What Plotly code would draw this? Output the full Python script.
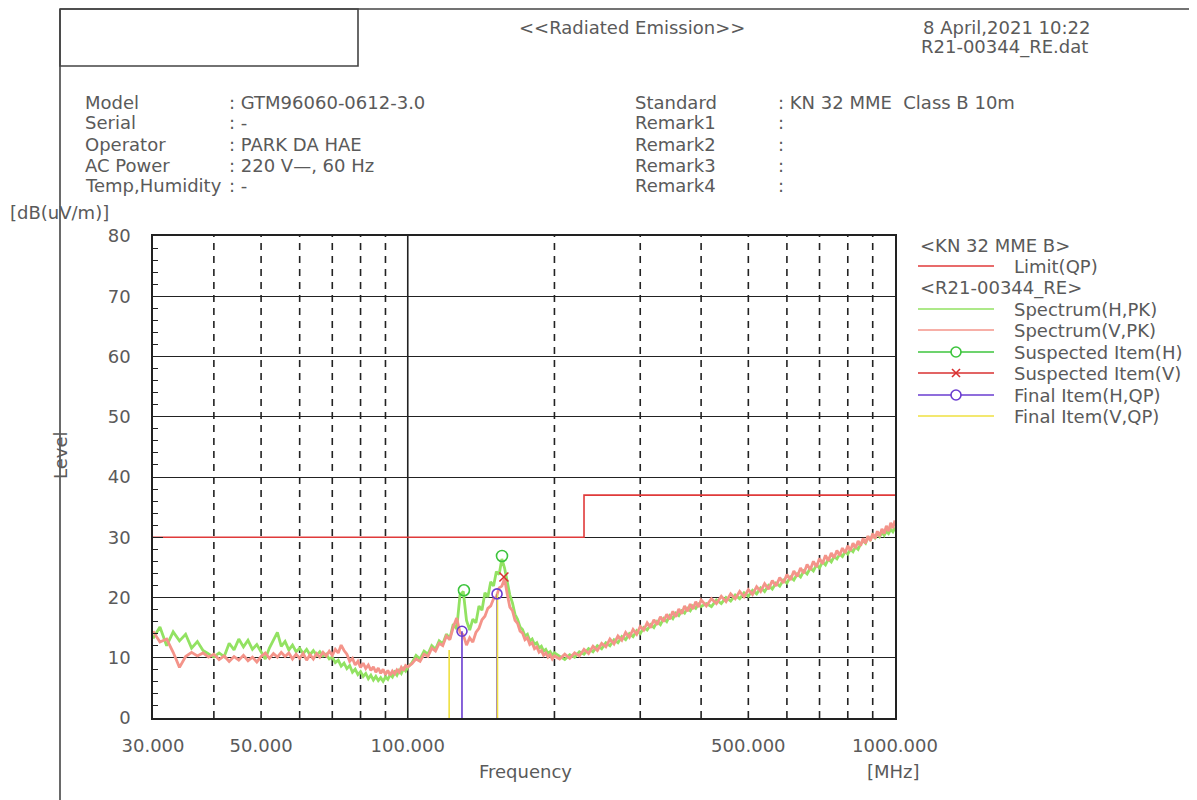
import plotly.graph_objects as go

# ---------------- data ----------------
freq = [30, 31, 32, 33, 34, 35, 36, 37, 38, 39, 40, 41, 42, 43, 44, 45, 46, 47, 48, 49,
        50, 51, 52, 53, 54, 55, 56, 57, 58, 59, 60, 61, 62, 63, 64, 65, 66, 67, 68, 69,
        70, 71, 72, 73, 74, 75, 76, 77, 78, 79, 80, 81, 82, 83, 84, 85, 86, 87, 88, 89,
        90, 91, 92, 93, 94, 95, 96, 97, 98, 99, 100,
        102, 104, 106, 108, 110, 112, 114, 116, 118, 120, 122, 124, 126, 128, 130, 132, 134,
        136, 138, 140, 142, 144, 146, 148, 150, 152, 154, 156, 158, 160, 162, 164, 166, 168,
        170, 172, 174, 176, 178, 180, 182, 184, 186, 188, 190, 192, 194, 196, 198, 200,
        205, 210, 215, 220, 225, 230, 235, 240, 245, 250, 255, 260, 265, 270, 275, 280, 285,
        290, 295, 300, 305, 310, 315, 320, 325, 330, 335, 340, 345, 350, 355, 360, 365, 370,
        375, 380, 385, 390, 395, 400,
        410, 420, 430, 440, 450, 460, 470, 480, 490, 500, 510, 520, 530, 540, 550, 560, 570,
        580, 590, 600, 610, 620, 630, 640, 650, 660, 670, 680, 690, 700, 710, 720, 730, 740,
        750, 760, 770, 780, 790, 800, 810, 820, 830, 840, 850, 860, 870, 880, 890, 900, 910,
        920, 930, 940, 950, 960, 970, 980, 990, 1000]

spec_h = [13.2, 15.1, 12.0, 14.3, 12.8, 13.9, 11.6, 12.7, 11.2, 10.6, 10.1, 10.8, 10.2, 12.4,
          11.3, 13.1, 11.8, 12.9, 11.4, 12.2, 10.9, 9.8, 11.6, 12.8, 14.2, 11.9, 12.7, 11.3,
          12.1, 11.0, 11.6, 10.7, 11.4, 10.5, 11.2, 10.4, 11.0, 10.3, 10.6, 9.8, 10.1, 9.2,
          9.6, 8.6, 9.1, 8.2, 8.7, 7.6, 8.1, 7.2, 7.7, 6.9, 7.4, 6.5, 7.1, 6.3, 6.9, 6.2, 6.7,
          6.1, 6.8, 6.4, 7.2, 6.8, 7.6, 7.1, 7.9, 7.4, 8.2, 7.8, 8.4,
          9.2, 10.4, 9.8, 11.1, 10.6, 12.0, 11.4, 12.8, 12.3, 13.9, 13.2, 15.6, 14.8, 20.4,
          21.0, 16.2, 14.6, 16.4, 15.8, 18.6, 17.9, 20.8, 20.1, 22.6, 21.9, 24.3, 23.8, 26.4,
          24.9, 22.8, 20.4, 19.1, 17.2, 16.4, 15.1, 14.7, 13.6, 13.9, 12.8, 13.1, 12.2, 12.5,
          11.6, 11.9, 11.1, 11.4, 10.7, 11.0, 10.4, 10.8,
          10.2, 9.7, 10.5, 10.1, 11.0, 10.6, 11.5, 11.0, 12.0, 11.5, 12.5, 12.0, 13.0, 12.5,
          13.5, 13.0, 14.0, 13.5, 14.5, 14.0, 15.0, 14.6, 15.5, 15.0, 16.0, 15.5, 16.5, 16.0,
          17.0, 16.5, 17.4, 17.0, 17.8, 17.4, 18.2, 17.8, 18.6, 18.2, 18.9, 18.5,
          19.0, 18.5, 19.6, 19.0, 20.0, 19.4, 20.4, 19.8, 20.8, 20.2, 21.2, 20.6, 21.6, 21.0,
          22.0, 21.4, 22.4, 21.9, 22.9, 22.4, 23.4, 22.9, 23.9, 23.4, 24.4, 23.9, 24.9, 24.4,
          25.4, 24.9, 25.9, 25.4, 26.4, 25.9, 26.8, 26.4, 27.2, 26.8, 27.6, 27.2, 28.0, 27.6,
          28.4, 28.0, 28.9, 29.4, 29.0, 30.1, 29.6, 30.4, 29.9, 30.6, 30.1, 30.8, 30.3, 31.0,
          30.6, 31.3, 30.9, 31.6]

spec_v = [14.4, 12.6, 13.1, 10.9, 8.4, 10.2, 10.9, 10.3, 10.8, 10.1, 10.6, 9.7, 10.3, 9.4,
          10.2, 9.6, 10.4, 9.5, 10.1, 9.3, 10.2, 10.8, 9.9, 10.7, 10.1, 10.9, 10.2, 10.8, 9.8,
          10.6, 9.9, 10.7, 9.6, 10.5, 9.8, 10.7, 10.1, 10.9, 10.3, 11.1, 10.4, 11.4, 10.8,
          12.1, 11.2, 10.6, 9.4, 9.9, 8.8, 9.4, 8.4, 9.1, 8.2, 8.8, 7.9, 8.5, 7.6, 8.3, 7.4,
          8.1, 7.2, 7.9, 7.1, 7.8, 7.3, 8.0, 7.6, 8.4, 7.9, 8.7, 8.5,
          9.0, 9.8, 9.4, 10.6, 10.2, 11.6, 11.1, 12.4, 12.0, 13.6, 13.0, 15.1, 16.6, 14.2,
          13.8, 12.1, 13.3, 12.6, 14.2, 14.9, 16.3, 16.9, 18.2, 18.6, 19.8, 20.1, 21.6, 21.9,
          23.1, 20.6, 18.4, 17.8, 16.2, 15.7, 14.4, 14.1, 13.0, 13.3, 12.2, 12.5, 11.5, 11.8,
          10.9, 11.2, 10.4, 10.8, 10.1, 10.5, 9.8, 10.3,
          9.8, 10.6, 9.9, 10.8, 10.3, 11.4, 10.7, 11.9, 11.2, 12.4, 11.8, 13.1, 12.3, 13.6,
          12.9, 14.2, 13.4, 14.7, 13.9, 15.2, 14.6, 15.8, 15.0, 16.3, 15.5, 16.8, 16.0, 17.2,
          16.4, 17.7, 16.8, 18.1, 17.3, 18.6, 17.7, 18.9, 18.1, 19.3, 18.4, 19.6,
          18.6, 19.8, 19.0, 20.2, 19.3, 20.6, 19.8, 21.0, 20.1, 21.3, 20.5, 21.8, 21.0, 22.3,
          21.4, 22.8, 21.9, 23.3, 22.4, 23.8, 22.9, 24.4, 23.5, 24.9, 24.0, 25.5, 24.6, 26.0,
          25.1, 26.5, 25.6, 27.0, 26.1, 27.4, 26.6, 27.8, 27.0, 28.2, 27.4, 28.6, 27.8, 29.0,
          28.2, 29.4, 28.6, 29.8, 29.0, 30.2, 29.4, 30.6, 29.8, 31.0, 30.2, 31.4, 30.6, 31.9,
          31.0, 32.4, 31.5, 32.8]

limit_freq = [30, 230, 230, 1000]
limit_level = [30, 30, 37, 37]

susp_h_freq = [130.4, 156.1]
susp_h_level = [21.2, 26.9]
susp_v_freq = [157.5]
susp_v_level = [23.4]
final_h_freq = [129.2, 152.5]
final_h_level = [14.4, 20.6]
final_v_freq = [121.6, 152.8]
final_v_level = [11.3, 20.6]

grid_dashed = [40, 50, 60, 70, 80, 90, 200, 300, 400, 500, 600, 700, 800, 900]
grid_solid = [100]

x_tickvals = [30, 50, 100, 500, 1000]
x_ticktext = ["30.000", "50.000", "100.000", "500.000", "1000.000"]
y_tickvals = [0, 10, 20, 30, 40, 50, 60, 70, 80]

info_left = [("Model", ": GTM96060-0612-3.0"), ("Serial", ": -"),
             ("Operator", ": PARK DA HAE"), ("AC Power", ": 220 V\u2014, 60 Hz"),
             ("Temp,Humidity", ": -")]
info_right = [("Standard", ": KN 32 MME  Class B 10m"), ("Remark1", ":"),
              ("Remark2", ":"), ("Remark3", ":"), ("Remark4", ":")]

# ---------------- styles ----------------
OFF = 8                      # page body margin of the html
W, H = 1197 - OFF, 800 - OFF
L, R, T, B = 153, 895, 236, 718   # plot area in screen pixels
FONT = "DejaVu Sans"
TXT = "#5a5a5a"
FS = 18
C_LIMIT = "#e03a3a"
C_H = "#92e262"
C_V = "#f4948a"
C_SH = "#3cc43c"
C_SV = "#d93030"
C_FH = "#6a3cd0"
C_FV = "#efe040"
C_GRID = "#222222"
TOP = 9


def px(x):
    return (x - L) / (R - L)


def py(y):
    return (B - y) / (B - T)


fig = go.Figure()

for f in grid_dashed:
    fig.add_trace(go.Scatter(x=[f, f], y=[0, 80], mode="lines",
                             line=dict(color=C_GRID, width=1.6, dash="7px,6px"),
                             hoverinfo="skip", showlegend=False))
for f in grid_solid:
    fig.add_trace(go.Scatter(x=[f, f], y=[0, 80], mode="lines",
                             line=dict(color=C_GRID, width=1.6),
                             hoverinfo="skip", showlegend=False))

fig.add_trace(go.Scatter(x=limit_freq, y=limit_level, mode="lines",
                         line=dict(color=C_LIMIT, width=1.6), name="Limit(QP)"))
fig.add_trace(go.Scatter(x=freq, y=spec_h, mode="lines",
                         line=dict(color=C_H, width=2.8), name="Spectrum(H,PK)"))
fig.add_trace(go.Scatter(x=freq, y=spec_v, mode="lines",
                         line=dict(color=C_V, width=2.8), name="Spectrum(V,PK)"))

for f, lv in zip(final_h_freq, final_h_level):
    fig.add_trace(go.Scatter(x=[f, f], y=[0, lv], mode="lines",
                             line=dict(color=C_FH, width=1.6),
                             hoverinfo="skip", showlegend=False))
for f, lv in zip(final_v_freq, final_v_level):
    fig.add_trace(go.Scatter(x=[f, f], y=[0, lv], mode="lines",
                             line=dict(color=C_FV, width=1.6),
                             hoverinfo="skip", showlegend=False))

fig.add_trace(go.Scatter(x=susp_h_freq, y=susp_h_level, mode="markers",
                         marker=dict(symbol="circle-open", size=11, color=C_SH,
                                     line=dict(width=1.6, color=C_SH)),
                         name="Suspected Item(H)"))
fig.add_trace(go.Scatter(x=susp_v_freq, y=susp_v_level, mode="markers",
                         marker=dict(symbol="x-thin-open", size=9, color=C_SV,
                                     line=dict(width=1.6, color=C_SV)),
                         name="Suspected Item(V)"))
fig.add_trace(go.Scatter(x=final_h_freq, y=final_h_level, mode="markers",
                         marker=dict(symbol="circle-open", size=10, color=C_FH,
                                     line=dict(width=1.6, color=C_FH)),
                         name="Final Item(H,QP)"))

shapes = []
ann = []

shapes.append(dict(type="line", xref="paper", yref="paper", x0=px(60), x1=px(1197),
                   y0=py(TOP), y1=py(TOP), line=dict(color="#444", width=1.6)))
shapes.append(dict(type="line", xref="paper", yref="paper", x0=px(60), x1=px(60),
                   y0=py(TOP), y1=py(800), line=dict(color="#444", width=1.6)))
shapes.append(dict(type="rect", xref="paper", yref="paper", x0=px(60), x1=px(358),
                   y0=py(TOP), y1=py(66), line=dict(color="#444", width=1.6)))


def text(x, y, s, xanchor="left", size=FS, angle=0):
    ann.append(dict(x=px(x), y=py(y), xref="paper", yref="paper", text=s,
                    showarrow=False, xanchor=xanchor, yanchor="middle",
                    textangle=angle, font=dict(family=FONT, size=size, color=TXT)))


text(632, 27, "&lt;&lt;Radiated Emission&gt;&gt;", "center")
text(1092, 27, "8 April,2021 10:22", "right")
text(1090, 47, "R21-00344_RE.dat", "right")

for i, (k, v) in enumerate(info_left):
    y = 102 + 21 * i
    text(83, y, k)
    text(227, y, v)
for i, (k, v) in enumerate(info_right):
    y = 102 + 21 * i
    text(633, y, k)
    text(776, y, v)

text(8, 213, "[dB(uV/m)]")
text(60, 455, "Level", "center", angle=-90)
text(525, 771, "Frequency", "center")
text(893, 771, "[MHz]", "center")

LX0, LX1, TX = 918, 994, 1012
text(LX0, 245, "&lt;KN 32 MME B&gt;")
text(LX0, 288, "&lt;R21-00344_RE&gt;")
legend_items = [
    (266, "Limit(QP)", C_LIMIT, None),
    (309, "Spectrum(H,PK)", C_H, None),
    (330, "Spectrum(V,PK)", C_V, None),
    (352, "Suspected Item(H)", C_SH, "circle"),
    (373, "Suspected Item(V)", C_SV, "x"),
    (395, "Final Item(H,QP)", C_FH, "circle"),
    (416, "Final Item(V,QP)", C_FV, None),
]
for y, label, col, mk in legend_items:
    shapes.append(dict(type="line", xref="paper", yref="paper", x0=px(LX0), x1=px(LX1),
                       y0=py(y), y1=py(y), line=dict(color=col, width=1.6)))
    cx = (LX0 + LX1) / 2
    if mk == "circle":
        shapes.append(dict(type="circle", xref="paper", yref="paper",
                           x0=px(cx - 5), x1=px(cx + 5), y0=py(y - 5), y1=py(y + 5),
                           line=dict(color=col, width=1.6), fillcolor="white"))
    elif mk == "x":
        shapes.append(dict(type="line", xref="paper", yref="paper", x0=px(cx - 4), x1=px(cx + 4),
                           y0=py(y - 4), y1=py(y + 4), line=dict(color=col, width=1.6)))
        shapes.append(dict(type="line", xref="paper", yref="paper", x0=px(cx - 4), x1=px(cx + 4),
                           y0=py(y + 4), y1=py(y - 4), line=dict(color=col, width=1.6)))
    text(TX, y, label)

fig.update_layout(
    width=W, height=H, autosize=False,
    margin=dict(l=L - OFF, r=W - (R - OFF), t=T - OFF, b=H - (B - OFF), pad=0),
    paper_bgcolor="white", plot_bgcolor="white",
    showlegend=False,
    shapes=shapes, annotations=ann,
    xaxis=dict(type="log", range=[1.4771212547, 3.0], tickvals=x_tickvals,
               ticktext=x_ticktext, showgrid=False, zeroline=False,
               showline=True, mirror=True, linecolor=C_GRID, linewidth=1.6,
               ticks="", tickfont=dict(family=FONT, size=FS, color=TXT),
               ticklabelstandoff=11),
    yaxis=dict(range=[0, 80], tickvals=y_tickvals, showgrid=True, gridcolor=C_GRID,
               gridwidth=1.4, zeroline=False, showline=True, mirror=True,
               linecolor=C_GRID, linewidth=1.6, ticks="inside", ticklen=10,
               tickcolor=C_GRID, tickwidth=1.4,
               minor=dict(dtick=2, ticks="inside", ticklen=5, tickcolor=C_GRID,
                          tickwidth=1.2, showgrid=False),
               tickfont=dict(family=FONT, size=FS, color=TXT), ticklabelstandoff=17),
)

fig.write_html("out.html")
